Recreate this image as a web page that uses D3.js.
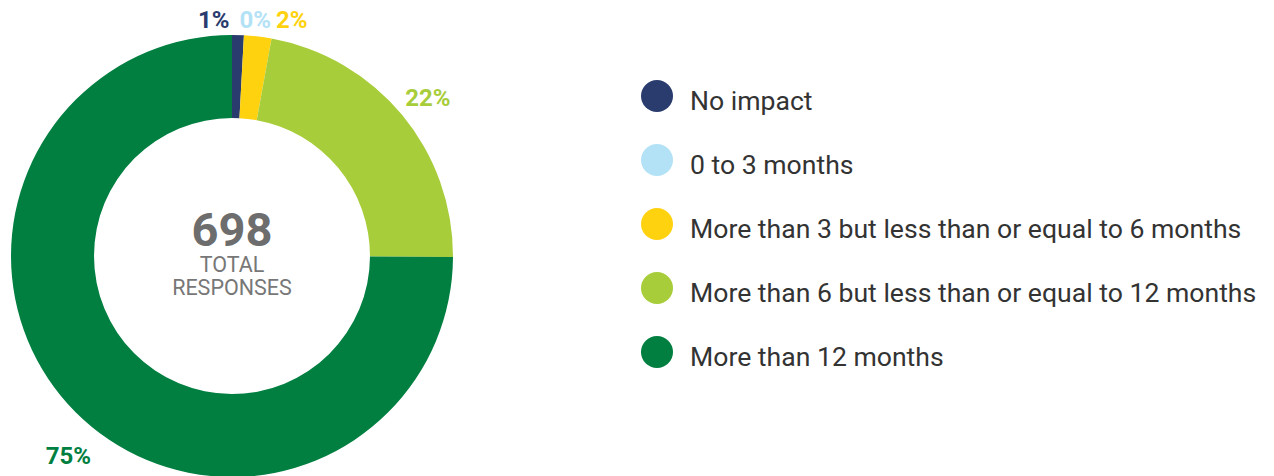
<!DOCTYPE html>
<html>
<head>
<meta charset="utf-8">
<script src="https://cdn.jsdelivr.net/npm/d3@7"></script>
<style>
  html, body { margin: 0; padding: 0; background: #fff; }
  svg { display: block; font-family: Roboto, "Noto Sans", sans-serif; }
</style>
</head>
<body>
<div id="chart"></div>
<script>
const width = 1274;
const height = 476;

// responses per category
const categories = [
  "No impact",
  "0 to 3 months",
  "More than 3 but less than or equal to 6 months",
  "More than 6 but less than or equal to 12 months",
  "More than 12 months"
];
const counts = [6, 0, 14, 155, 523];
const colors = ["#2a3c6e", "#b3e2f6", "#ffd20f", "#a8cd3a", "#007f40"];
const totalLabel = ["TOTAL", "RESPONSES"];

const total = d3.sum(counts);
const data = categories.map((name, i) => ({name, value: counts[i], color: colors[i]}));

const cx = 232, cy = 256;
const outerR = 221, innerR = 138;

const svg = d3.create("svg")
  .attr("width", width)
  .attr("height", height)
  .attr("viewBox", [0, 0, width, height]);

// attach early so text lengths can be measured
document.getElementById("chart").appendChild(svg.node());

const pie = d3.pie().sort(null).value(d => d.value);
const arcs = pie(data);

const arc = d3.arc().innerRadius(innerR).outerRadius(outerR);
const labelArc = d3.arc().innerRadius(252).outerRadius(252);

const g = svg.append("g").attr("transform", `translate(${cx},${cy})`);

g.selectAll("path")
  .data(arcs)
  .join("path")
  .attr("fill", d => d.data.color)
  .attr("d", arc);

// percentage labels
const pct = d => `${Math.round(d.data.value / total * 100)}%`;
const big = arcs.filter(d => d.data.value / total >= 0.05);
const small = arcs.filter(d => d.data.value / total < 0.05);

g.selectAll("text.big")
  .data(big)
  .join("text")
  .attr("class", "big")
  .attr("text-anchor", "middle")
  .attr("font-size", 24)
  .attr("font-weight", 700)
  .attr("fill", d => d.data.color)
  .attr("transform", d => {
    let [x, y] = labelArc.centroid(d);
    if (y > 0) { x += 15; y += 22; }   // nudge the bottom label
    else { x += 2; y += 3; }
    return `translate(${x},${y + 8})`;
  })
  .text(pct);

// tiny slices: labels in a row above the top of the ring
const row = g.append("g").attr("transform", `translate(-34,${-outerR - 7})`);
let xPos = 0;
small.forEach((d, i) => {
  const t = row.append("text")
    .attr("x", xPos)
    .attr("font-size", 24)
    .attr("font-weight", 700)
    .attr("fill", d.data.color)
    .text(pct(d));
  xPos += t.node().getComputedTextLength() + (i === 0 ? 10 : 5);
});

// centre total
g.append("text")
  .attr("text-anchor", "middle")
  .attr("y", -10)
  .attr("font-size", 47)
  .attr("font-weight", 700)
  .attr("fill", "#6d6d6d")
  .text(total);

g.selectAll("text.sub")
  .data(totalLabel)
  .join("text")
  .attr("class", "sub")
  .attr("text-anchor", "middle")
  .attr("y", (d, i) => 16 + i * 23)
  .attr("font-size", 21.5)
  .attr("fill", "#777")
  .text(d => d);

// legend
const legend = svg.append("g").attr("transform", "translate(657,96)");
const items = legend.selectAll("g")
  .data(data)
  .join("g")
  .attr("transform", (d, i) => `translate(0,${i * 64})`);

items.append("circle")
  .attr("r", 16)
  .attr("fill", d => d.color);

items.append("text")
  .attr("x", 33)
  .attr("y", 14)
  .attr("font-size", 26.6)
  .attr("fill", "#333")
  .text(d => d.name);
</script>
</body>
</html>
